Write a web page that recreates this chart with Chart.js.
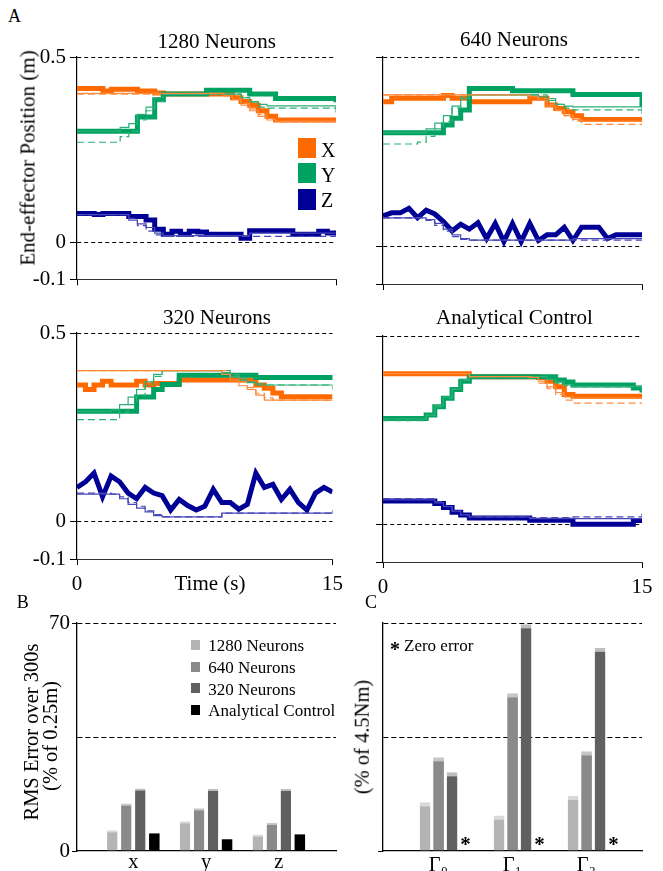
<!DOCTYPE html>
<html><head><meta charset="utf-8">
<script src="https://cdn.jsdelivr.net/npm/chart.js@4.4.1/dist/chart.umd.min.js"></script>
<style>
html,body{margin:0;padding:0;background:#fff;}
#wrap{position:relative;width:663px;height:871px;overflow:hidden;background:#fff;font-family:"Liberation Serif","Times New Roman",serif;color:#000;}
#wrap canvas{position:absolute;}
.t{position:absolute;white-space:nowrap;line-height:1;}
.sq{position:absolute;}
</style></head><body><div id="wrap"></div>
<script>
// ---------------- DATA ----------------
const time = [0,0.5,1,1.5,2,2.5,3,3.5,4,4.5,5,5.5,6,6.5,7,7.5,8,8.5,9,9.5,10,10.5,11,11.5,12,12.5,13,13.5,14,14.5,15];
const xTicksA = [0, 15];
const xTickLabelsA = ['0', '15'];
const yTicksA = [-0.1, 0, 0.5];
const yTickLabelsA = ['-0.1', '0', '0.5'];
const panelTitles = ['1280 Neurons', '640 Neurons', '320 Neurons', 'Analytical Control'];

// 1280 neurons: thick (actual), thin (solid), dash
const n1280_X  = [0.415,0.415,0.415,0.408,0.413,0.413,0.413,0.408,0.408,0.403,0.400,0.400,0.400,0.400,0.400,0.400,0.400,0.400,0.390,0.380,0.370,0.355,0.340,0.330,0.330,0.330,0.330,0.330,0.330,0.330,0.330];
const n1280_Xt = [0.402,0.402,0.402,0.402,0.402,0.402,0.402,0.402,0.402,0.402,0.402,0.402,0.402,0.402,0.402,0.402,0.402,0.395,0.385,0.370,0.355,0.340,0.330,0.327,0.327,0.327,0.327,0.327,0.327,0.327,0.327];
const n1280_Xd = [0.400,0.400,0.400,0.400,0.400,0.400,0.400,0.400,0.400,0.400,0.400,0.400,0.400,0.400,0.400,0.400,0.400,0.400,0.390,0.375,0.360,0.345,0.332,0.325,0.325,0.325,0.325,0.325,0.325,0.325,0.325];
const n1280_Y  = [0.300,0.300,0.300,0.300,0.300,0.300,0.300,0.338,0.338,0.385,0.400,0.400,0.400,0.400,0.400,0.410,0.410,0.410,0.410,0.410,0.400,0.400,0.400,0.388,0.388,0.388,0.388,0.388,0.388,0.388,0.378];
const n1280_Yt = [0.300,0.300,0.300,0.300,0.300,0.310,0.320,0.345,0.365,0.390,0.400,0.400,0.400,0.400,0.400,0.400,0.400,0.400,0.400,0.390,0.380,0.372,0.368,0.368,0.368,0.368,0.368,0.368,0.368,0.368,0.350];
const n1280_Yd = [0.270,0.270,0.270,0.270,0.270,0.285,0.300,0.330,0.355,0.380,0.400,0.400,0.400,0.400,0.400,0.400,0.400,0.400,0.400,0.390,0.378,0.365,0.362,0.362,0.362,0.362,0.362,0.362,0.362,0.362,0.362];
const n1280_Z  = [0.078,0.078,0.075,0.078,0.078,0.078,0.070,0.070,0.060,0.035,0.022,0.030,0.022,0.030,0.028,0.022,0.022,0.022,0.022,0.011,0.031,0.031,0.031,0.031,0.031,0.022,0.022,0.022,0.030,0.025,0.022];
const n1280_Zt = [0.075,0.075,0.075,0.075,0.075,0.075,0.060,0.050,0.040,0.025,0.018,0.018,0.018,0.018,0.018,0.018,0.018,0.018,0.018,0.018,0.025,0.025,0.025,0.025,0.025,0.025,0.025,0.025,0.025,0.025,0.025];
const n1280_Zd = [0.075,0.075,0.075,0.075,0.075,0.075,0.065,0.045,0.030,0.020,0.016,0.016,0.016,0.016,0.016,0.016,0.016,0.016,0.016,0.016,0.016,0.016,0.016,0.016,0.016,0.016,0.016,0.016,0.016,0.016,0.016];

// 640 neurons
const n640_X  = [0.382,0.391,0.391,0.391,0.391,0.391,0.391,0.398,0.391,0.391,0.382,0.382,0.382,0.382,0.382,0.382,0.382,0.391,0.391,0.373,0.364,0.355,0.345,0.335,0.335,0.335,0.335,0.335,0.335,0.335,0.340];
const n640_Xt = [0.400,0.400,0.400,0.400,0.400,0.400,0.400,0.400,0.400,0.400,0.400,0.400,0.400,0.400,0.400,0.400,0.400,0.395,0.385,0.370,0.358,0.345,0.335,0.330,0.330,0.330,0.330,0.330,0.330,0.330,0.330];
const n640_Xd = [0.400,0.400,0.400,0.400,0.400,0.400,0.400,0.400,0.400,0.400,0.400,0.400,0.400,0.400,0.400,0.400,0.400,0.400,0.390,0.375,0.360,0.345,0.332,0.322,0.322,0.322,0.322,0.322,0.322,0.322,0.322];
const n640_Y  = [0.300,0.300,0.300,0.300,0.300,0.300,0.300,0.320,0.338,0.360,0.417,0.417,0.417,0.417,0.417,0.411,0.411,0.411,0.411,0.411,0.411,0.411,0.401,0.401,0.401,0.401,0.401,0.401,0.401,0.401,0.368];
const n640_Yt = [0.300,0.300,0.300,0.300,0.300,0.310,0.325,0.345,0.370,0.390,0.400,0.400,0.400,0.400,0.400,0.400,0.400,0.400,0.395,0.385,0.375,0.370,0.368,0.368,0.368,0.368,0.368,0.368,0.368,0.368,0.350];
const n640_Yd = [0.270,0.270,0.270,0.270,0.275,0.290,0.310,0.330,0.365,0.395,0.400,0.400,0.400,0.400,0.400,0.400,0.400,0.400,0.400,0.390,0.375,0.365,0.360,0.360,0.360,0.360,0.360,0.360,0.360,0.360,0.360];
const n640_Z  = [0.080,0.088,0.088,0.100,0.075,0.095,0.085,0.065,0.040,0.058,0.045,0.062,0.020,0.060,0.012,0.060,0.012,0.060,0.015,0.030,0.030,0.050,0.015,0.050,0.050,0.050,0.020,0.030,0.030,0.030,0.030];
const n640_Zt = [0.075,0.075,0.075,0.075,0.075,0.070,0.060,0.045,0.030,0.020,0.016,0.016,0.016,0.016,0.016,0.016,0.016,0.016,0.016,0.016,0.016,0.016,0.020,0.020,0.020,0.020,0.020,0.020,0.020,0.020,0.020];
const n640_Zd = [0.075,0.075,0.075,0.075,0.075,0.068,0.055,0.040,0.025,0.018,0.016,0.016,0.016,0.016,0.016,0.016,0.016,0.016,0.016,0.016,0.016,0.016,0.016,0.016,0.016,0.016,0.016,0.016,0.016,0.016,0.016];

// 320 neurons
const n320_X  = [0.362,0.350,0.362,0.372,0.362,0.362,0.362,0.372,0.362,0.366,0.366,0.366,0.375,0.375,0.375,0.375,0.375,0.375,0.375,0.375,0.375,0.362,0.353,0.341,0.331,0.331,0.331,0.331,0.331,0.331,0.331];
const n320_Xt = [0.400,0.400,0.400,0.400,0.400,0.400,0.400,0.400,0.400,0.400,0.400,0.400,0.400,0.400,0.400,0.400,0.400,0.390,0.375,0.360,0.350,0.335,0.322,0.322,0.322,0.322,0.322,0.322,0.322,0.322,0.322];
const n320_Xd = [0.400,0.400,0.400,0.400,0.400,0.400,0.400,0.400,0.400,0.400,0.400,0.400,0.400,0.400,0.400,0.400,0.400,0.400,0.385,0.370,0.355,0.340,0.328,0.322,0.322,0.322,0.322,0.322,0.322,0.322,0.322];
const n320_Y  = [0.292,0.292,0.292,0.292,0.292,0.292,0.292,0.330,0.330,0.350,0.363,0.363,0.388,0.388,0.388,0.388,0.388,0.388,0.388,0.388,0.388,0.382,0.382,0.382,0.382,0.382,0.382,0.382,0.382,0.382,0.375];
const n320_Yt = [0.292,0.292,0.292,0.292,0.295,0.310,0.330,0.350,0.370,0.390,0.400,0.400,0.400,0.400,0.400,0.400,0.400,0.395,0.385,0.375,0.368,0.365,0.362,0.362,0.362,0.362,0.362,0.362,0.362,0.362,0.350];
const n320_Yd = [0.270,0.270,0.270,0.270,0.270,0.290,0.310,0.335,0.360,0.385,0.400,0.400,0.400,0.400,0.400,0.400,0.400,0.400,0.390,0.380,0.370,0.362,0.362,0.362,0.362,0.362,0.362,0.362,0.362,0.362,0.362];
const n320_Z  = [0.090,0.105,0.128,0.065,0.120,0.105,0.075,0.060,0.090,0.075,0.068,0.030,0.058,0.042,0.030,0.040,0.085,0.050,0.050,0.032,0.045,0.128,0.090,0.098,0.058,0.085,0.050,0.030,0.075,0.090,0.078];
const n320_Zt = [0.072,0.072,0.072,0.072,0.072,0.060,0.045,0.035,0.025,0.015,0.012,0.012,0.012,0.012,0.012,0.012,0.012,0.022,0.022,0.022,0.022,0.022,0.022,0.022,0.022,0.022,0.022,0.022,0.022,0.022,0.030];
const n320_Zd = [0.075,0.075,0.075,0.075,0.072,0.065,0.050,0.040,0.028,0.018,0.012,0.012,0.012,0.012,0.012,0.012,0.012,0.022,0.022,0.022,0.022,0.022,0.022,0.022,0.022,0.022,0.022,0.022,0.022,0.022,0.022];

// Analytical control
const ac_X  = [0.400,0.400,0.400,0.400,0.400,0.400,0.400,0.400,0.400,0.400,0.392,0.392,0.392,0.392,0.392,0.392,0.392,0.392,0.390,0.380,0.365,0.345,0.340,0.340,0.340,0.340,0.340,0.340,0.340,0.340,0.340];
const ac_Xt = [0.400,0.400,0.400,0.400,0.400,0.400,0.400,0.400,0.400,0.400,0.392,0.392,0.392,0.392,0.392,0.392,0.392,0.390,0.380,0.365,0.350,0.338,0.335,0.335,0.335,0.335,0.335,0.335,0.335,0.335,0.335];
const ac_Xd = [0.400,0.400,0.400,0.400,0.400,0.400,0.400,0.400,0.400,0.400,0.392,0.392,0.392,0.392,0.392,0.392,0.392,0.390,0.375,0.360,0.345,0.330,0.322,0.322,0.322,0.322,0.322,0.322,0.322,0.322,0.322];
const ac_Y  = [0.281,0.281,0.281,0.281,0.281,0.290,0.312,0.335,0.358,0.380,0.392,0.392,0.392,0.392,0.392,0.392,0.392,0.392,0.392,0.392,0.383,0.378,0.370,0.370,0.370,0.370,0.370,0.370,0.370,0.362,0.350];
const ac_Yt = [0.280,0.280,0.280,0.280,0.280,0.290,0.315,0.338,0.360,0.385,0.392,0.392,0.392,0.392,0.392,0.392,0.392,0.392,0.392,0.385,0.378,0.370,0.366,0.366,0.366,0.366,0.366,0.366,0.366,0.366,0.350];
const ac_Yd = [0.275,0.275,0.275,0.275,0.275,0.290,0.312,0.335,0.358,0.382,0.392,0.392,0.392,0.392,0.392,0.392,0.392,0.392,0.392,0.385,0.375,0.368,0.365,0.365,0.365,0.365,0.365,0.365,0.365,0.365,0.360];
const ac_Z  = [0.062,0.062,0.062,0.062,0.062,0.062,0.055,0.045,0.032,0.025,0.017,0.017,0.017,0.017,0.017,0.017,0.017,0.011,0.011,0.011,0.011,0.011,0.000,0.000,0.000,0.000,0.000,0.000,0.000,0.010,0.010];
const ac_Zt = [0.065,0.065,0.065,0.065,0.065,0.065,0.057,0.047,0.035,0.025,0.020,0.020,0.020,0.020,0.020,0.020,0.020,0.015,0.015,0.015,0.015,0.015,0.015,0.015,0.015,0.015,0.015,0.015,0.015,0.015,0.015];
const ac_Zd = [0.068,0.068,0.068,0.068,0.068,0.068,0.060,0.048,0.035,0.025,0.020,0.020,0.020,0.020,0.020,0.020,0.020,0.018,0.018,0.018,0.018,0.018,0.020,0.020,0.020,0.020,0.020,0.020,0.020,0.020,0.030];

// Bar charts
const groupPos = [1, 2, 3];
const posLabels = ['x', 'y', 'z'];
const torqueLabels = ['Γ₀', 'Γ₁', 'Γ₂'];
const seriesNames = ['1280 Neurons', '640 Neurons', '320 Neurons', 'Analytical Control'];
const rms1280 = [6.4, 9.1, 5.1];
const rms640  = [14.6, 13.1, 8.7];
const rms320  = [19.2, 19.0, 19.0];
const rmsAC   = [5.4, 3.6, 5.1];
const tq1280 = [15.0, 10.9, 16.9];
const tq640  = [28.8, 48.4, 30.6];
const tq320  = [24.2, 69.6, 62.4];
const tqAC   = [0, 0, 0];
const yTicksBar = [0, 35, 70];
const yTickLabelsB = ['0', '', '70'];

// ---------------- RENDER ----------------
const wrap = document.getElementById('wrap');
const FONT = '"Liberation Serif", "Times New Roman", serif';
Chart.defaults.font.family = FONT;
Chart.defaults.color = '#000';

const COL  = {X:'#ff6a00', Y:'#00a262', Z:'#000096'};
const COLT = {X:'#ff8a3d', Y:'#2db077', Z:'#4646b8'};

function addCanvas(b){
  const c = document.createElement('canvas');
  c.width = b[2]; c.height = b[3];
  c.style.left = b[0]+'px'; c.style.top = b[1]+'px';
  c.style.width = b[2]+'px'; c.style.height = b[3]+'px';
  wrap.appendChild(c);
  return c;
}
function txt(s, x, base, size, o){
  o = o || {};
  const d = document.createElement('div');
  d.className = 't'; d.textContent = s;
  d.style.fontSize = size+'px';
  if (o.bold) d.style.fontWeight = 'bold';
  if (o.rot){
    d.style.left = x+'px'; d.style.top = base+'px';
    d.style.transform = 'translate(-50%,-50%) rotate(-90deg)';
  } else {
    d.style.left = x+'px'; d.style.top = (base - 0.8375*size)+'px';
    if (o.center) d.style.transform = 'translateX(-50%)';
  }
  wrap.appendChild(d);
}
function sq(x, y, w, h, c){
  const d = document.createElement('div');
  d.className = 'sq';
  Object.assign(d.style, {left:x+'px', top:y+'px', width:w+'px', height:h+'px', background:c});
  wrap.appendChild(d);
}
function pts(arr){ return time.map((t,i)=>({x:t, y:arr[i]})); }

function lineSets(p){
  const sets = [];
  ['X','Y','Z'].forEach(k=>sets.push({label:k+' desired', data:pts(p[k][1]), borderColor:COLT[k], borderWidth:1.2, stepped:true}));
  ['X','Y','Z'].forEach(k=>sets.push({label:k+' target', data:pts(p[k][2]), borderColor:COLT[k], borderWidth:1.2, borderDash:[7,4], stepped:true}));
  ['Y','Z','X'].forEach(k=>sets.push({label:k, data:pts(p[k][0]), borderColor:COL[k], borderWidth:5, stepped: !(k==='Z' && p.zig)}));
  return sets;
}

function lineChart(p){
  const cv = addCanvas(p.box);
  new Chart(cv, {
    type:'line',
    data:{datasets:lineSets(p)},
    options:{
      responsive:false, animation:false, events:[],
      layout:{autoPadding:false, padding:{top:p.pad[0], right:p.pad[1], bottom:0, left:0}},
      plugins:{legend:{display:false}, tooltip:{enabled:false}},
      elements:{line:{tension:0, borderCapStyle:'butt', borderJoinStyle:'miter'}, point:{radius:0}},
      scales:{
        x:{type:'linear', min:0, max:15,
           afterBuildTicks:s=>{ s.ticks = xTicksA.map(v=>({value:v})); },
           afterFit:s=>{ s.height = p.xh; },
           ticks:{display:p.showX, autoSkip:false, maxRotation:0, padding:7, font:{size:21}, color:'#000', callback:(v,i)=>xTickLabelsA[i]},
           grid:{drawOnChartArea:false, drawTicks:true, tickLength:6, color:'#000', tickWidth:1},
           border:{display:true, color:'#333', width:1}},
        y:{type:'linear', min:-0.1, max:0.5,
           afterBuildTicks:s=>{ s.ticks = yTicksA.map(v=>({value:v})); },
           afterFit:s=>{ s.width = p.yw; },
           ticks:{display:p.showY, autoSkip:false, padding:4, font:{size:21}, color:'#000', callback:(v,i)=>yTickLabelsA[i]},
           grid:{color:'#000', lineWidth:1, drawTicks:true, tickLength:7, tickColor:'#000', tickBorderDash:[]},
           border:{display:true, color:'#000', width:1.2, dash:[4,3]}}
      }
    }
  });
}

const zeroStar = {
  id:'zeroStar',
  afterDatasetsDraw(chart){
    const ds = chart.data.datasets[3];
    const meta = chart.getDatasetMeta(3);
    const ctx = chart.ctx;
    ctx.save();
    ctx.font = 'bold 21px ' + FONT;
    ctx.textAlign = 'center'; ctx.textBaseline = 'alphabetic'; ctx.fillStyle = '#000';
    meta.data.forEach((bar,i)=>{ if (ds.data[i].y === 0) ctx.fillText('*', bar.x, bar.base + 0); });
    ctx.restore();
  }
};

function barChart(p){
  const cv = addCanvas(p.box);
  const fills = ['#b4b4b4','#8a8a8a','#606060','#000000'];
  const caps  = ['#d9d9d9','#c6c6c6','#bebebe','#000000'];
  const datasets = p.vals.map((arr,j)=>({
    label: seriesNames[j],
    data: arr.map((v,i)=>({x:groupPos[i], y:v})),
    backgroundColor: fills[j], borderColor: caps[j],
    borderWidth: j<3 ? {top:p.cap, left:0, right:0, bottom:0} : 0,
    borderSkipped:'bottom',
    barPercentage:p.bp, categoryPercentage:p.cp
  }));
  new Chart(cv, {
    type:'bar',
    data:{datasets},
    plugins: p.star ? [zeroStar] : [],
    options:{
      responsive:false, animation:false, events:[],
      layout:{autoPadding:false, padding:{top:p.pad[0], right:p.pad[1], bottom:0, left:0}},
      plugins:{legend:{display:false}, tooltip:{enabled:false}},
      scales:{
        x:{type:'linear', min:p.xr[0], max:p.xr[1], offset:false,
           afterBuildTicks:s=>{ s.ticks = groupPos.map(v=>({value:v})); },
           afterFit:s=>{ s.height = p.xh; },
           ticks:{autoSkip:false, maxRotation:0, padding:p.xpad, labelOffset:p.lo, font:{size:20.5}, color:'#000', callback:(v,i)=>p.labels[i]},
           grid:{drawOnChartArea:false, drawTicks:false},
           border:{display:true, color:'#000', width:1.3}},
        y:{min:0, max:70, z:p.gz,
           afterBuildTicks:s=>{ s.ticks = yTicksBar.map(v=>({value:v})); },
           afterFit:s=>{ s.width = p.yw; },
           ticks:{display:p.showY, autoSkip:false, padding:2, font:{size:21}, color:'#000', callback:(v,i)=>yTickLabelsB[i]},
           grid:{color:c=> (c.tick && c.tick.value===0) ? 'rgba(0,0,0,0)' : '#000', lineWidth:1, drawTicks:true, tickLength:5,
                 tickColor:c=> (c.tick && p.tickVals.includes(c.tick.value)) ? '#000' : 'rgba(0,0,0,0)', tickBorderDash:[]},
           border:{display:true, color:'#000', width:1.3, dash:[5,3]}}
      }
    }
  });
}

// Panel A
lineChart({box:[0,40,350,256], pad:[17,14], yw:77, xh:12, showY:true, showX:false, zig:false,
  X:[n1280_X,n1280_Xt,n1280_Xd], Y:[n1280_Y,n1280_Yt,n1280_Yd], Z:[n1280_Z,n1280_Zt,n1280_Zd]});
lineChart({box:[350,40,313,256], pad:[17,21], yw:33, xh:12, showY:false, showX:false, zig:true,
  X:[n640_X,n640_Xt,n640_Xd], Y:[n640_Y,n640_Yt,n640_Yd], Z:[n640_Z,n640_Zt,n640_Zd]});
lineChart({box:[0,316,350,284], pad:[17,14], yw:77, xh:41, showY:true, showX:true, zig:true,
  X:[n320_X,n320_Xt,n320_Xd], Y:[n320_Y,n320_Yt,n320_Yd], Z:[n320_Z,n320_Zt,n320_Zd]});
lineChart({box:[350,316,313,284], pad:[20,21], yw:33, xh:38, showY:false, showX:true, zig:false,
  X:[ac_X,ac_Xt,ac_Xd], Y:[ac_Y,ac_Yt,ac_Yd], Z:[ac_Z,ac_Zt,ac_Zd]});

// Panels B and C
barChart({box:[0,600,350,271], pad:[23,14], yw:77, xh:20, xr:[0.226,3.786], labels:posLabels, lo:0, xpad:-1,
  vals:[rms1280,rms640,rms320,rmsAC], cap:2, bp:0.75, cp:0.77, showY:true, tickVals:[0,70], gz:0, star:false});
barChart({box:[350,600,313,271], pad:[23,21], yw:33, xh:20, xr:[0.158,3.658], labels:torqueLabels, lo:-7, xpad:2,
  vals:[tq1280,tq640,tq320,tqAC], cap:4, bp:0.8, cp:0.73, showY:false, tickVals:[0], gz:1, star:true});

// ---------------- TEXT ----------------
txt('A', 8, 21.7, 18);
txt(panelTitles[0], 216.7, 48.3, 21, {center:true});
txt(panelTitles[1], 514, 46.7, 21, {center:true});
txt(panelTitles[2], 217, 325, 21, {center:true});
txt(panelTitles[3], 514.5, 325, 21, {center:true});
txt('End-effector Position (m)', 27.9, 158.3, 21, {rot:true});
txt('Time (s)', 210, 591, 21, {center:true});

// Legend A
sq(297.7, 138.3, 18, 20, COL.X); txt('X', 321, 156.7, 20);
sq(297.7, 163.3, 18, 20, COL.Y); txt('Y', 321, 181.7, 20);
sq(297.7, 189.0, 18, 21, COL.Z); txt('Z', 321, 206.7, 20);

txt('B', 16.7, 608.3, 18);
txt('C', 365, 608.3, 18);
txt('RMS Error over 300s', 31.4, 731.7, 20.5, {rot:true});
txt('(% of 0.25m)', 50.4, 735.8, 20.5, {rot:true});
txt('(% of 4.5Nm)', 362, 736.7, 20.5, {rot:true});

// Legend B
const legFill = ['#b4b4b4','#8a8a8a','#606060','#000000'];
const legTop = [640, 661.7, 683.3, 705];
seriesNames.forEach((n,i)=>{ sq(190.7, legTop[i], 9.5, 10, legFill[i]); txt(n, 208.3, legTop[i]+11.7, 17); });

// Zero error note
txt('*', 390, 656, 20, {bold:true});
txt('Zero error', 404, 651.7, 17);
</script></body></html>
